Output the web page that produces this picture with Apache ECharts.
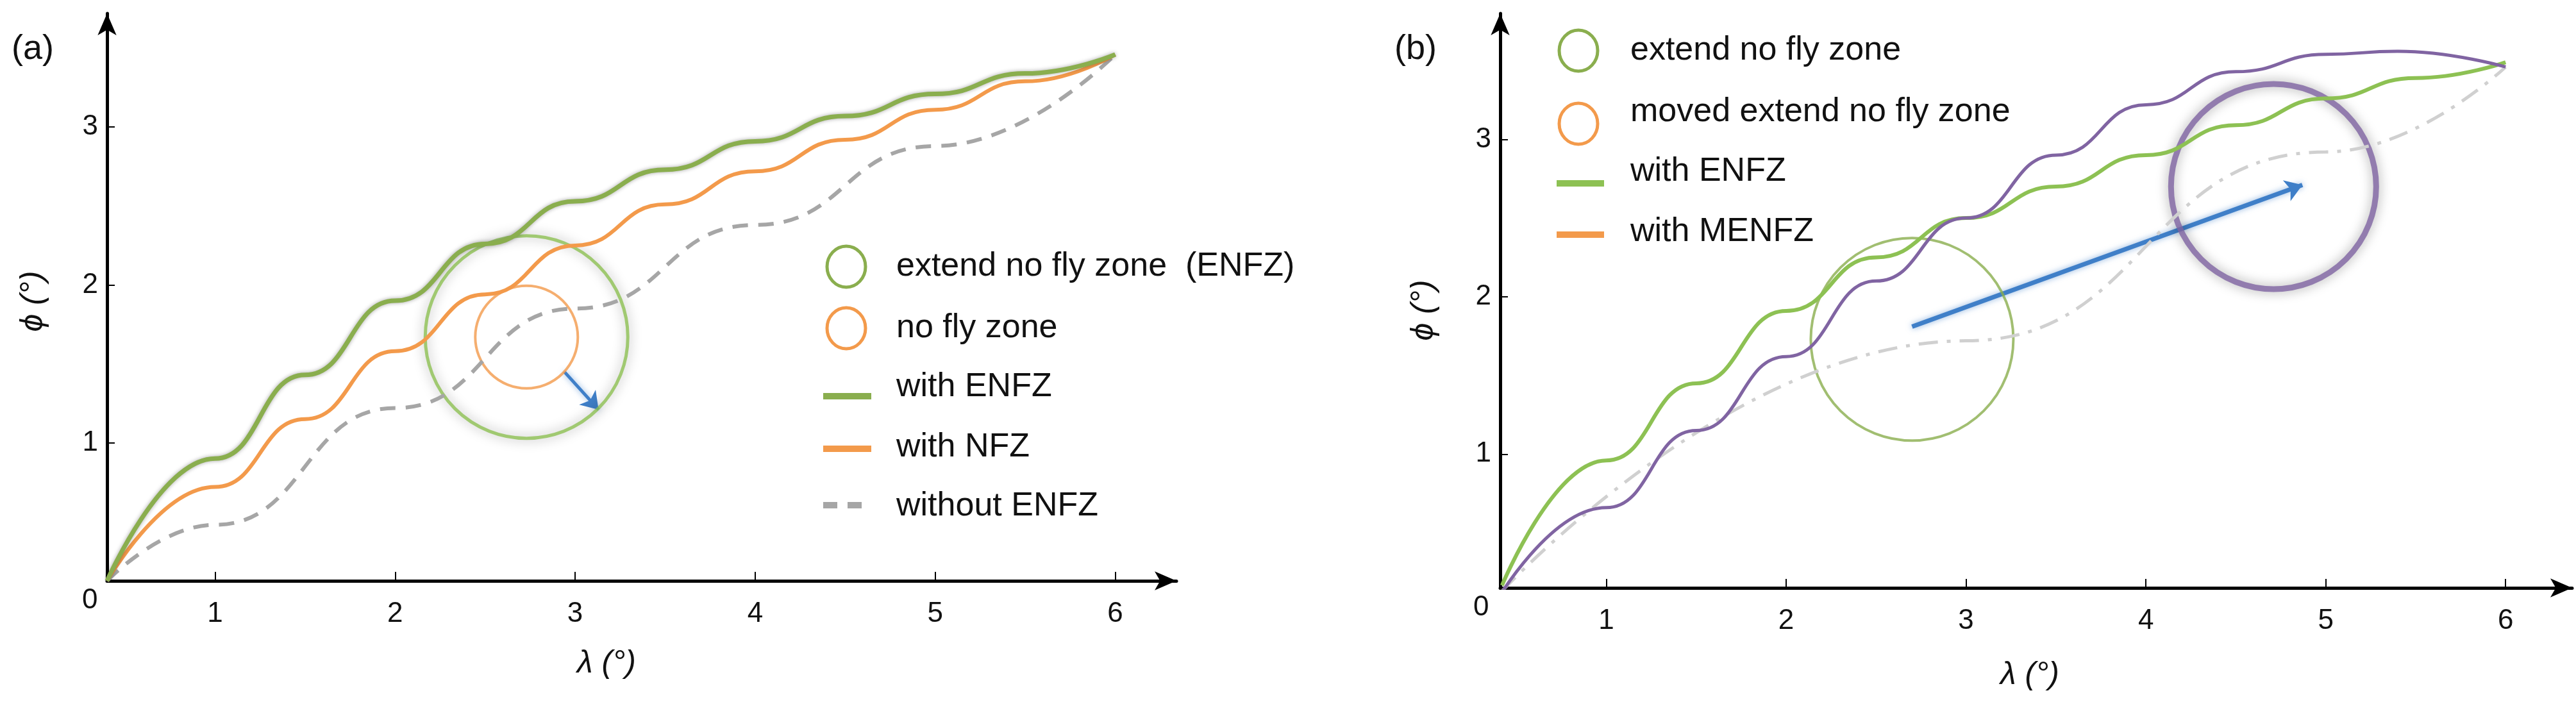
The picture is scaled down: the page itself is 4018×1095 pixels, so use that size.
<!DOCTYPE html>
<html>
<head>
<meta charset="utf-8">
<script src="https://cdn.jsdelivr.net/npm/echarts@6/dist/echarts.min.js"></script>
<style>html,body{margin:0;background:#fff}#main{width:4018px;height:1095px}</style>
</head>
<body>
<div id="main"></div>
<script>
(function (echarts) {
  "use strict";

  var ticks = [1, 2, 3, 4, 5, 6]
    , yTicks = [1, 2, 3];

  // panel (a)
  var aEnfz = [[0.4, 0.125], [1, 0.90], [1.5, 1.43], [2, 1.90], [2.5, 2.26], [3, 2.53], [3.5, 2.73],
               [4, 2.91], [4.5, 3.07], [5, 3.21], [5.5, 3.34], [6, 3.46]];
  var aNfz = [[0.4, 0.125], [1, 0.72], [1.5, 1.15], [2, 1.58], [2.5, 1.94], [3, 2.25], [3.5, 2.51],
              [4, 2.72], [4.5, 2.92], [5, 3.11], [5.5, 3.29], [6, 3.46]];
  var aNone = [[0.4, 0.125], [1, 0.48], [2, 1.22], [3, 1.85], [4, 2.38], [5, 2.88], [6, 3.46]];
  var aZone = [2.73, 1.67];
  var aArrow = [[2.94, 1.45], [3.13, 1.21]];

  // panel (b)
  var bEnfz = [[0.42, 0.166], [1, 0.96], [1.5, 1.45], [2, 1.91], [2.5, 2.25], [3, 2.5], [3.5, 2.7],
               [4, 2.9], [4.5, 3.09], [5, 3.26], [5.5, 3.39], [6, 3.49]];
  var bMenfz = [[0.38, 0.05], [1, 0.66], [1.5, 1.15], [2, 1.62], [2.5, 2.1], [3, 2.5], [3.5, 2.9],
                [4, 3.22], [4.5, 3.43], [5, 3.54], [5.4, 3.56], [6, 3.46]];
  var bNone = [[0.42, 0.13], [3, 1.72], [5, 2.92], [6, 3.46]];
  var bZone = [2.70, 1.73];
  var bMoved = [4.71, 2.70];
  var bArrow = [[2.70, 1.81], [4.87, 2.71]];

  var GREEN = '#8dc153', GREEN2 = '#8aae4e', ORANGE = '#f39a4b', GRAY = '#a6a6a6',
      LIGHT = '#d0d0d0', PURPLE = '#8064a2', BLUE = '#3f7fc8';
  var FONT = 'Liberation Sans';

  function axisX(idx, min, max) {
    return {
      gridIndex: idx, type: 'value', min: min, max: max,
      axisLine: { lineStyle: { color: '#000', width: 5 }, symbol: ['none', 'arrow'], symbolSize: [22, 34] },
      axisTick: { inside: true, length: 14, lineStyle: { color: '#000', width: 2 }, customValues: ticks },
      axisLabel: { customValues: ticks, fontSize: 44, color: '#111', fontFamily: FONT, margin: 30 },
      splitLine: { show: false }
    };
  }
  function axisY(idx, min, max) {
    return {
      gridIndex: idx, type: 'value', min: min, max: max,
      axisLine: { show: true, lineStyle: { color: '#000', width: 5 }, symbol: ['none', 'arrow'], symbolSize: [22, 34] },
      axisTick: { show: true, inside: true, length: 12, lineStyle: { color: '#000', width: 2 }, customValues: yTicks },
      axisLabel: { customValues: yTicks, fontSize: 44, color: '#111', fontFamily: FONT, margin: 14 },
      splitLine: { show: false }
    };
  }
  function curve(idx, data, color, type, width, shadow) {
    return {
      type: 'line', xAxisIndex: idx, yAxisIndex: idx, data: data, smooth: 0.5, smoothMonotone: 'x',
      showSymbol: false, silent: true,
      lineStyle: { color: color, width: width || 6, type: type || 'solid',
                   shadowColor: shadow ? 'rgba(0,0,0,0.35)' : 'transparent', shadowBlur: shadow ? 6 : 0 }
    };
  }
  function ring(idx, pos, size, color, width, shadow) {
    return {
      type: 'scatter', xAxisIndex: idx, yAxisIndex: idx, data: [pos], symbolSize: size, silent: true,
      itemStyle: { color: 'rgba(0,0,0,0)', borderColor: color, borderWidth: width,
                   shadowColor: shadow ? 'rgba(0,0,0,0.45)' : 'transparent', shadowBlur: shadow ? 18 : 0 }
    };
  }
  function arrow(idx, coords, width) {
    return {
      type: 'lines', coordinateSystem: 'cartesian2d', xAxisIndex: idx, yAxisIndex: idx, silent: true,
      symbol: ['none', 'arrow'], symbolSize: 26,
      lineStyle: { color: BLUE, width: width, opacity: 1, curveness: 0,
                   shadowColor: 'rgba(63,127,200,0.6)', shadowBlur: 10 },
      data: [{ coords: coords }]
    };
  }

  function legendRing(x, y, color) {
    return { type: 'ellipse', shape: { cx: x, cy: y, rx: 30, ry: 32 }, style: { fill: 'none', stroke: color, lineWidth: 5 } };
  }
  function legendLine(x1, x2, y, color, dash) {
    return { type: 'line', shape: { x1: x1, y1: y, x2: x2, y2: y },
             style: { stroke: color, lineWidth: 10, lineDash: dash || null } };
  }
  function text(x, y, str, size, rot, style) {
    return { type: 'text', x: x, y: y, rotation: rot || 0,
             style: { text: str, fontSize: size || 52, fontFamily: FONT, fill: '#111', verticalAlign: 'middle',
                      fontStyle: style || 'normal', align: rot ? 'center' : 'left' } };
  }

  var chart = echarts.init(document.getElementById('main'));
  chart.setOption({
    animation: false,
    backgroundColor: '#fff',
    grid: [
      { left: 167, right: 4018 - 1835, top: 21, bottom: 189 },
      { left: 2340, right: 6, top: 21, bottom: 178 }
    ],
    xAxis: [axisX(0, 0.4, 6.34), axisX(1, 0.41, 6.37)],
    yAxis: [axisY(0, 0.125, 3.72), axisY(1, 0.15, 3.80)],
    series: [
      curve(0, aNone, GRAY, [24, 16], 6),
      curve(0, aNfz, ORANGE, 'solid', 6),
      curve(0, aEnfz, GREEN2, 'solid', 7, true),
      ring(0, aZone, 316, GREEN, 5, true),
      ring(0, aZone, 160, ORANGE, 4),
      arrow(0, aArrow, 5),

      curve(1, bNone, LIGHT, [30, 14, 6, 14], 5),
      curve(1, bEnfz, GREEN, 'solid', 6),
      curve(1, bMenfz, PURPLE, 'solid', 5),
      ring(1, bZone, 316, GREEN2, 4),
      ring(1, bMoved, 320, PURPLE, 9, true),
      arrow(1, bArrow, 7)
    ],
    graphic: [
      text(18, 77, '(a)', 54),
      text(2175, 77, '(b)', 54),
      text(52, 470, 'ϕ (°)', 50, Math.PI / 2, 'italic'),
      text(2221, 484, 'ϕ (°)', 50, Math.PI / 2, 'italic'),
      text(900, 1035, 'λ (°)', 50, 0, 'italic'),
      text(3120, 1053, 'λ (°)', 50, 0, 'italic'),
      text(128, 937, '0', 44),
      text(2298, 948, '0', 44),

      legendRing(1320, 416, GREEN2),
      legendRing(1320, 512, ORANGE),
      legendLine(1284, 1359, 618, GREEN2),
      legendLine(1284, 1359, 700, ORANGE),
      legendLine(1284, 1359, 788, GRAY, [22, 16]),
      text(1398, 416, 'extend no fly zone  (ENFZ)'),
      text(1398, 512, 'no fly zone'),
      text(1398, 604, 'with ENFZ'),
      text(1398, 698, 'with NFZ'),
      text(1398, 790, 'without ENFZ'),

      legendRing(2462, 79, GREEN2),
      legendRing(2462, 193, ORANGE),
      legendLine(2428, 2502, 286, GREEN),
      legendLine(2428, 2502, 366, ORANGE),
      text(2543, 79, 'extend no fly zone'),
      text(2543, 175, 'moved extend no fly zone'),
      text(2543, 268, 'with ENFZ'),
      text(2543, 362, 'with MENFZ')
    ]
  });
})(echarts);
</script>
</body>
</html>
